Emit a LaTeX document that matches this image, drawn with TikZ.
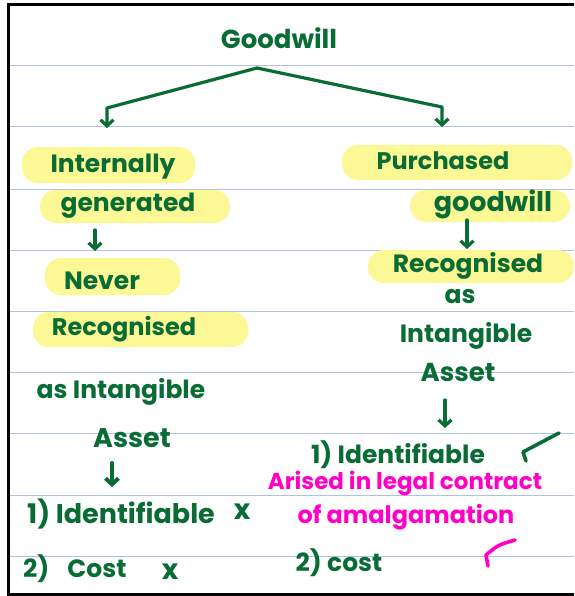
\documentclass[tikz,border=0pt]{standalone}
\usepackage{fontspec}
\setmainfont{Poppins}
\usetikzlibrary{arrows.meta}
\definecolor{InkGreen}{RGB}{8,108,52}
\definecolor{InkPink}{RGB}{255,0,200}
\definecolor{MarkerYellow}{RGB}{252,248,150}
\definecolor{RuleBlue}{RGB}{178,194,222}
\tikzset{
  note/.style={font=\fontsize{#1}{#1}\selectfont\bfseries, text=InkGreen, inner sep=1pt},
  note/.default=25,
  pinknote/.style={note=#1, text=InkPink},
  pinknote/.default=23,
  marker/.style={fill=MarkerYellow, rounded corners=16pt},
  inkarrow/.style={-{Straight Barb[length=6pt,width=13pt]}, line width=3.2pt,
    draw=InkGreen, line cap=round, line join=round},
  tick/.style={line width=3.6pt, line cap=round, line join=round},
  rule/.style={draw=RuleBlue, line width=1pt},
}
\begin{document}
\begin{tikzpicture}[x=1pt, y=-1pt]
  \useasboundingbox (0,0) rectangle (574,596);
  % ruled paper
  \foreach \ry in {66,127,189,250,311,372,433,495,556}
    \draw[rule] (8,\ry) -- (574,\ry);
  \draw[line width=3pt, line join=miter] (574,5) -- (8,5) -- (8,594) -- (574,594);

  % highlighter strokes
  \fill[marker] (22,147) rectangle (195,183);
  \fill[marker] (40,190) rectangle (230,223);
  \fill[marker] (45,258) rectangle (180,295);
  \fill[marker] (33,312) rectangle (248,347);
  \fill[marker] (342,145) rectangle (572,180);
  \fill[marker] (410,190) rectangle (570,222);
  \fill[marker] (368,250) rectangle (574,283);

  % title
  \node[note=26] (good) at (279,38) {Goodwill};
  \coordinate (fork) at (257,68);
  \coordinate (bendL) at (107,108);
  \coordinate (bendR) at (442,107);
  \coordinate (tipL) at (107,128);
  \coordinate (tipR) at (442,127);

  % left branch
  \node[note] (inl) at (113,167) {Internally};
  \node[note] (gen) at (128,206) {generated};
  \node[note] (never) at (102,281) {Never};
  \node[note=24] (recL) at (124,329) {Recognised};
  \node[note] (asL) at (121,392) {as Intangible};
  \node[note=27] (assetL) at (132,438) {Asset};
  \node[note=27] (idL) at (121,514) {1) Identifiable};
  \node[note=28] (crossA) at (242,512) {x};
  \node[note=25, anchor=west] (costL) at (22,569) {2)\hspace{18pt}Cost};
  \node[note=28] (crossB) at (170,572) {x};

  % right branch
  \node[note=24] (pur) at (443,161) {Purchased};
  \node[note=27] (gwR) at (493,204) {goodwill};
  \node[note] (recR) at (468,266) {Recognised};
  \node[note] (asR) at (460,297) {as};
  \node[note] (intR) at (466,336) {Intangible};
  \node[note=26] (assetR) at (458,372) {Asset};
  \node[note=25] (idR) at (398,455) {1) Identifiable};
  \node[pinknote] (arise) at (405,483) {Arised in legal contract};
  \node[pinknote=24] (amal) at (406,517) {of amalgamation};
  \node[note=25] (costR) at (339,563) {2) cost};

  % arrows
  \coordinate (gL1) at (95,230);  \coordinate (gL2) at (95,251);
  \coordinate (aL1) at (112,463); \coordinate (aL2) at (112,487);
  \coordinate (gR1) at (467,220); \coordinate (gR2) at (467,249);
  \coordinate (aR1) at (445,400); \coordinate (aR2) at (445,428);
  \draw[inkarrow] (fork) -- (bendL) -- (tipL);
  \draw[inkarrow] (fork) -- (bendR) -- (tipR);
  \draw[inkarrow] (gL1) -- (gL2);
  \draw[inkarrow, line width=4pt] (aL1) -- (aL2);
  \draw[inkarrow] (gR1) -- (gR2);
  \draw[inkarrow] (aR1) -- (aR2);

  % ticks
  \draw[tick, InkGreen] (559,433) -- (523,452) -- (526,461);
  \draw[tick, InkPink] (515,540) .. controls (498,545) .. (486,555) -- (488,566);
\end{tikzpicture}
\end{document}
